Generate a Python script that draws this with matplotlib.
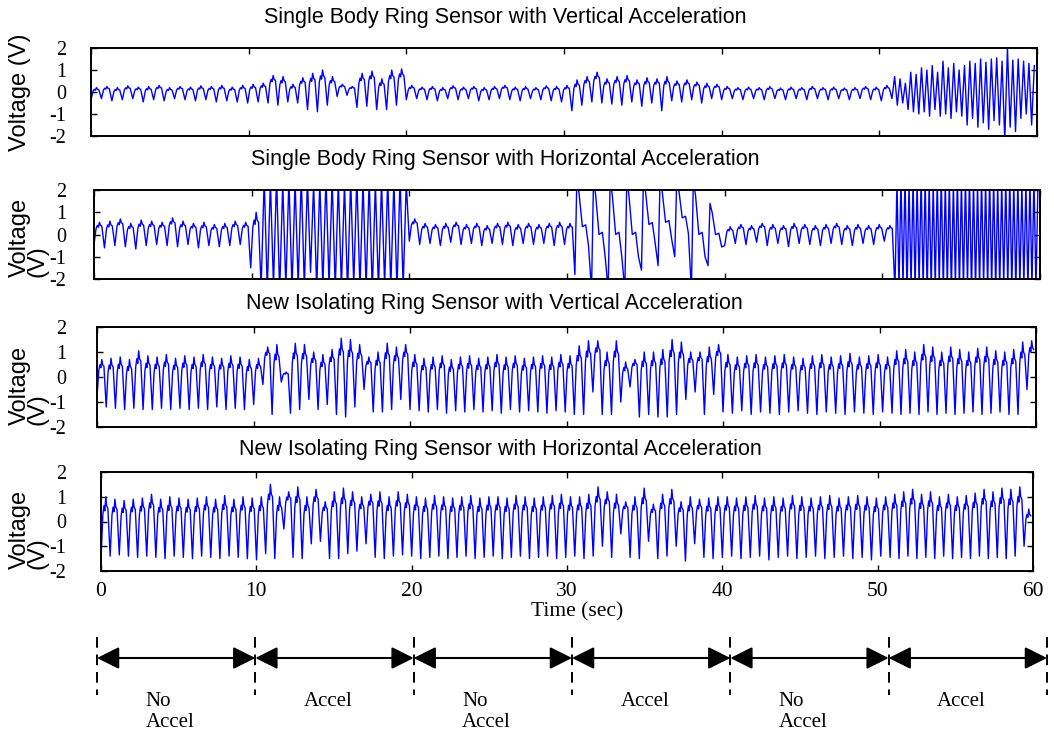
import matplotlib
matplotlib.use("Agg")
import matplotlib.pyplot as plt
import numpy as np

# ---- data ----
titles = ["Single Body Ring Sensor with Vertical Acceleration",
          "Single Body Ring Sensor with Horizontal Acceleration",
          "New Isolating Ring Sensor with Vertical Acceleration",
          "New Isolating Ring Sensor with Horizontal Acceleration"]

# time (sec) where the no-accel / accel phases switch in the traces
phase_edges = [0, 10.6, 20.0, 30.5, 40.0, 50.8, 60]
# protocol bar below the plots
protocol_edges = [0, 10, 20, 30, 40, 50, 60]
protocol_names = ["No\nAccel", "Accel", "No\nAccel", "Accel", "No\nAccel", "Accel"]

x_ticks = [0, 10, 20, 30, 40, 50, 60]
y_ticks = [-2, -1, 0, 1, 2]

# one typical cycle of each waveform kind (phase within cycle, level 0=trough 1=peak)
beat_phase = [0.0, 0.2, 0.32, 0.42, 0.52, 0.62, 0.75]
beat_level = [0.0, 0.72, 0.86, 0.78, 1.0, 0.86, 0.82]
zig_phase = [0.0, 0.5]
zig_level = [0.0, 1.0]
swing_phase = [0.0, 0.12, 0.25, 0.45, 0.65, 0.82]
swing_level = [0.0, 1.0, 0.85, 0.5, 0.52, 0.3]

# per phase: cycle peaks / troughs (V)
p1_kind = ["beat", "beat", "beat", "beat", "beat", "zig"]
p1_peaks = [
    [0.2, 0.25, 0.2, 0.28, 0.22, 0.25, 0.3, 0.2, 0.25, 0.22, 0.28, 0.25, 0.3, 0.22, 0.3, 0.35],
    [0.4, 0.75, 0.7, 0.35, 0.65, 0.85, 1.0, 0.7, 0.35, 0.25, 0.85, 0.95, 0.6, 1.0, 1.05],
    [0.3, 0.22, 0.25, 0.2, 0.28, 0.22, 0.25, 0.2, 0.25, 0.3, 0.22, 0.25, 0.2, 0.28, 0.25, 0.3],
    [0.55, 0.7, 0.9, 0.6, 0.7, 0.75, 0.55, 0.65, 0.6, 0.7, 0.5, 0.55, 0.45, 0.4, 0.35],
    [0.25, 0.2, 0.22, 0.2, 0.25, 0.18, 0.22, 0.2, 0.25, 0.2, 0.22, 0.18, 0.2, 0.25, 0.22, 0.3],
    [0.7, 0.6, 0.4, 0.9, 0.8, 1.1, 1.0, 1.2, 0.9, 1.4, 1.1, 1.3, 1.0, 1.2, 1.4, 1.3, 1.5, 1.35,
     1.5, 1.55, 1.4, 2.0, 1.45, 1.5, 1.4, 1.3, 1.2]]
p1_troughs = [
    [-0.35, -0.3, -0.4, -0.35, -0.3, -0.45, -0.35, -0.4, -0.3, -0.35, -0.4, -0.35, -0.45, -0.4, -0.45, -0.5],
    [-0.45, -0.5, -0.6, -0.45, -0.5, -0.8, -0.9, -0.6, -0.2, -0.15, -0.7, -0.65, -0.8, -0.8, -0.6],
    [-0.35, -0.3, -0.35, -0.4, -0.3, -0.35, -0.3, -0.4, -0.35, -0.3, -0.35, -0.4, -0.3, -0.35, -0.4, -0.45],
    [-0.85, -0.6, -0.45, -0.5, -0.55, -0.6, -0.45, -0.65, -0.5, -0.85, -0.4, -0.45, -0.35, -0.5, -0.3],
    [-0.35, -0.3, -0.35, -0.3, -0.35, -0.3, -0.35, -0.3, -0.35, -0.3, -0.35, -0.3, -0.35, -0.3, -0.35, -0.4],
    [-0.3, -0.6, -0.5, -0.8, -0.9, -1.0, -0.9, -1.1, -0.8, -1.1, -1.0, -1.2, -0.9, -1.1, -1.5, -1.2, -1.6,
     -1.4, -1.7, -1.3, -1.5, -2.2, -1.6, -1.8, -1.2, -1.0, -1.5]]

p2_kind = ["beat", "zig", "beat", "swing", "beat", "zig"]
p2_peaks = [
    [0.55, 0.6, 0.7, 0.5, 0.65, 0.6, 0.55, 0.75, 0.6, 0.5, 0.55, 0.45, 0.5, 0.6, 0.55, 1.0],
    [2.5, 2.4, 2.6, 2.3, 2.5, 2.4, 2.6, 2.5, 2.3, 2.4, 2.6, 2.5, 2.4, 2.3, 2.5, 2.6, 2.4, 2.5,
     2.3, 2.4, 2.5, 2.4, 2.6, 2.3],
    [0.7, 0.5, 0.45, 0.5, 0.55, 0.45, 0.5, 0.4, 0.5, 0.55, 0.45, 0.5, 0.45, 0.5, 0.55, 0.5],
    [2.5, 2.5, 2.5, 2.5, 2.5, 2.5, 2.5, 2.5, 1.4],
    [0.35, 0.45, 0.4, 0.5, 0.45, 0.4, 0.5, 0.45, 0.4, 0.45, 0.5, 0.4, 0.45, 0.4, 0.45, 0.4],
    [2.4, 2.5, 2.6, 2.3, 2.5, 2.4, 2.6, 2.5, 2.4, 2.3, 2.5, 2.6, 2.4, 2.5, 2.3, 2.6, 2.4, 2.5,
     2.6, 2.4, 2.3, 2.5, 2.4, 2.6, 2.5, 2.3, 2.4, 2.5, 2.6, 2.4, 2.5, 2.3, 2.4, 2.5, 2.6, 2.4]]
p2_troughs = [
    [-0.45, -0.6, -0.5, -0.55, -0.65, -0.5, -0.45, -0.5, -0.55, -0.45, -0.6, -0.5, -0.55, -0.5, -0.45, -1.5],
    [-2.4, -2.5, -2.3, -2.6, -2.4, -2.5, -2.3, -2.4, -1.7, -2.5, -2.4, -2.3, -2.5, -2.4, -2.6, -2.3, -2.5,
     -2.4, -2.6, -2.5, -2.3, -2.4, -2.5, -2.4],
    [-0.3, -0.45, -0.4, -0.5, -0.35, -0.45, -0.4, -0.5, -0.4, -0.45, -0.5, -0.4, -0.45, -0.4, -0.5, -0.45],
    [-1.8, -2.5, -2.5, -2.5, -1.6, -1.4, -1.0, -2.5, -1.4],
    [-0.5, -0.4, -0.45, -0.35, -0.5, -0.4, -0.55, -0.4, -0.45, -0.5, -0.4, -0.45, -0.5, -0.4, -0.45, -0.3],
    [-2.5, -2.4, -2.3, -2.6, -2.4, -2.5, -2.3, -2.4, -2.6, -2.5, -2.4, -2.3, -2.5, -2.4, -2.6, -2.3, -2.5,
     -2.4, -2.3, -2.6, -2.5, -2.4, -2.3, -2.5, -2.4, -2.6, -2.5, -2.3, -2.4, -2.5, -2.6, -2.4, -2.3, -2.5,
     -2.4, -2.5]]

p3_kind = ["beat"] * 6
p3_peaks = [
    [0.7, 0.75, 0.8, 0.7, 1.05, 0.85, 0.8, 0.9, 0.75, 0.85, 0.8, 0.9, 0.8, 0.75, 0.85, 0.8, 0.7, 0.75],
    [1.2, 1.3, 0.2, 1.35, 1.3, 1.0, 0.9, 1.1, 1.55, 1.5, 1.3, 0.8, 1.0, 1.35, 1.2, 1.3],
    [0.9, 0.75, 0.8, 0.85, 0.7, 0.8, 0.85, 0.75, 0.8, 0.9, 0.8, 0.85, 0.75, 0.8, 0.85, 0.8, 0.9, 0.85],
    [1.25, 1.45, 1.45, 1.0, 1.45, 0.6, 0.7, 1.0, 1.0, 1.1, 1.5, 1.4, 1.0, 1.0, 1.2, 1.3],
    [0.9, 0.8, 0.85, 0.9, 0.8, 0.85, 0.9, 0.8, 0.75, 0.85, 0.9, 0.8, 0.85, 0.95, 0.8, 0.85, 0.9, 0.8],
    [1.05, 1.1, 1.0, 1.3, 1.2, 1.0, 1.2, 1.1, 1.0, 1.15, 1.2, 1.05, 1.0, 1.1, 1.4, 1.45]]
p3_troughs = [
    [-0.8, -1.2, -1.25, -1.3, -1.25, -1.3, -1.3, -1.25, -1.3, -1.25, -1.3, -1.25, -1.3, -1.2, -1.3, -1.25,
     -1.3, -1.1],
    [-0.3, -1.5, -0.2, -1.45, -1.3, -0.9, -1.3, -1.1, -1.5, -1.6, -1.2, -0.5, -1.4, -1.4, -1.3, -0.9],
    [-1.3, -1.35, -1.4, -1.3, -1.45, -1.35, -1.4, -1.3, -1.4, -1.35, -1.45, -1.3, -1.4, -1.35, -1.4, -1.45,
     -1.35, -1.4],
    [-1.5, -1.5, -0.6, -1.5, -1.5, -1.0, -0.4, -1.6, -1.5, -1.6, -1.6, -1.5, -0.9, -0.6, -1.5, -0.7],
    [-1.4, -1.45, -1.35, -1.5, -1.4, -1.45, -1.5, -1.4, -1.35, -1.45, -1.5, -1.4, -1.45, -1.5, -1.4, -1.45,
     -1.5, -1.4],
    [-1.45, -1.5, -1.45, -1.5, -1.4, -1.5, -1.45, -1.5, -1.45, -1.4, -1.5, -1.45, -1.4, -1.5, -1.5, -0.5]]

p4_kind = ["beat"] * 6
p4_peaks = [
    [1.0, 0.9, 0.85, 0.9, 0.95, 1.1, 0.9, 1.0, 0.95, 0.9, 0.95, 1.0, 0.9, 1.05, 0.9, 1.0, 0.95, 1.0],
    [1.5, 1.0, 1.2, 1.4, 1.0, 1.3, 0.8, 1.2, 1.35, 1.2, 1.0, 1.1, 1.2, 1.0, 1.2, 1.1],
    [1.0, 0.95, 1.05, 1.0, 0.95, 1.0, 1.05, 0.95, 1.0, 1.0, 0.95, 1.05, 1.0, 0.95, 1.0, 1.05, 1.1, 1.0],
    [1.0, 1.1, 1.4, 1.2, 1.1, 0.8, 1.0, 1.35, 0.7, 1.1, 1.3, 0.8, 1.0, 0.9, 0.95, 1.0],
    [1.0, 0.95, 1.0, 1.05, 0.95, 1.0, 0.95, 1.05, 1.0, 0.95, 1.0, 1.05, 0.95, 1.0, 1.05, 1.0, 0.95, 1.0],
    [1.1, 1.2, 1.3, 1.1, 1.2, 1.0, 1.1, 1.0, 1.05, 1.15, 1.3, 1.2, 1.35, 1.3, 1.4, 0.5]]
p4_troughs = [
    [-1.6, -1.4, -1.35, -1.4, -1.45, -1.4, -1.45, -1.5, -1.4, -1.45, -1.5, -1.4, -1.45, -1.5, -1.4, -1.45,
     -1.5, -1.55],
    [-1.3, -1.5, -0.3, -1.45, -1.5, -0.9, -0.8, -1.5, -1.5, -1.3, -1.2, -0.9, -1.45, -1.5, -1.4, -1.35],
    [-1.4, -1.5, -1.45, -1.4, -1.5, -1.45, -1.4, -1.5, -1.45, -1.4, -1.5, -1.45, -1.4, -1.5, -1.45, -1.4,
     -1.5, -1.45],
    [-1.4, -1.5, -1.4, -1.0, -1.45, -0.5, -1.45, -1.5, -0.8, -1.5, -1.4, -1.0, -1.6, -0.9, -1.45, -1.5],
    [-1.45, -1.4, -1.5, -1.45, -1.4, -1.55, -1.45, -1.4, -1.5, -1.45, -1.4, -1.5, -1.45, -1.4, -1.5, -1.45,
     -1.55, -1.4],
    [-1.45, -1.5, -1.4, -1.5, -1.45, -1.5, -1.4, -1.5, -1.45, -1.5, -1.4, -1.5, -1.45, -1.5, -1.4, -1.0]]

shapes = {"beat": (beat_phase, beat_level),
          "zig": (zig_phase, zig_level),
          "swing": (swing_phase, swing_level)}


def build_trace(peaks, troughs, kinds):
    t, v = [], []
    for seg, (hi_list, lo_list, kind) in enumerate(zip(peaks, troughs, kinds)):
        t0, t1 = phase_edges[seg], phase_edges[seg + 1]
        period = (t1 - t0) / len(hi_list)
        ph, lv = shapes[kind]
        for k, (hi, lo) in enumerate(zip(hi_list, lo_list)):
            for p, l in zip(ph, lv):
                t.append(t0 + (k + p) * period)
                v.append(lo + l * (hi - lo))
    return np.array(t), np.array(v)


W, H = 1054, 734
# panel boxes in pixels: left, top, right, bottom
boxes = [(91, 48, 1037, 136), (94, 190, 1040, 279), (97, 327, 1036, 427), (101, 472, 1033, 571)]
title_pos = [(505, 18), (505, 160), (494, 303), (500, 450)]
label_right = 66

plt.rcParams['font.family'] = ['Liberation Sans', 'DejaVu Sans']
fig = plt.figure(figsize=(W / 100, H / 100), dpi=100)
fig.patch.set_facecolor('white')

panels = [(p1_peaks, p1_troughs, p1_kind), (p2_peaks, p2_troughs, p2_kind),
          (p3_peaks, p3_troughs, p3_kind), (p4_peaks, p4_troughs, p4_kind)]

axes = []
for i, ((l, t, r, b), (pk, tr, kd)) in enumerate(zip(boxes, panels)):
    ax = fig.add_axes([l / W, 1 - b / H, (r - l) / W, (b - t) / H])
    tt, vv = build_trace(pk, tr, kd)
    ax.plot(tt, vv, color='#0000ff', lw=1.0)
    ax.set_xlim(0, 60)
    ax.set_ylim(-2, 2)
    ax.set_xticks(x_ticks)
    ax.set_yticks(y_ticks)
    ax.set_yticklabels([str(y) for y in y_ticks], family='Liberation Serif', fontsize=14.5)
    ax.tick_params(direction='in', length=4, width=1, top=True, right=True,
                   pad=(l - label_right) * 0.72)
    ax.tick_params(axis='x', pad=4)
    for lab in ax.get_yticklabels():
        lab.set_bbox(dict(facecolor='white', edgecolor='none', pad=0.5))
    if i < 3:
        ax.set_xticklabels([])
    else:
        ax.set_xticklabels([str(x) for x in x_ticks], family='Liberation Serif', fontsize=15.5)
        ax.tick_params(axis='x', pad=8)
    for sp in ax.spines.values():
        sp.set_linewidth(1.4)
    fig.text(title_pos[i][0] / W, 1 - title_pos[i][1] / H, titles[i], ha='center', va='center', fontsize=15.5)
    if i == 0:
        fig.text(20 / W, 1 - (t + b) / 2 / H, "Voltage (V)", rotation=90, ha='center', va='center', fontsize=17)
    else:
        fig.text(20 / W, 1 - (b - 2) / H, "Voltage", rotation=90, ha='center', va='bottom', fontsize=17)
        fig.text(38 / W, 1 - (b - 2) / H, "(V)", rotation=90, ha='center', va='bottom', fontsize=17, zorder=-1)
    axes.append(ax)

fig.text(577 / W, 1 - 612 / H, "Time (sec)", ha='center', va='center', family='Liberation Serif', fontsize=15.5)

# protocol bar
pax = fig.add_axes([97 / W, 0, (1047 - 97) / W, 104 / H])
pax.set_xlim(0, 60)
pax.set_ylim(104, 0)
pax.axis('off')
for x in protocol_edges:
    pax.plot([x, x], [7, 65], color='black', lw=1.4, ls=(0, (5.5, 3.5)), clip_on=False)
for x0, x1, name in zip(protocol_edges[:-1], protocol_edges[1:], protocol_names):
    pax.annotate('', xy=(x1, 28), xytext=(x0, 28),
                 arrowprops=dict(arrowstyle='<|-|>', color='black', lw=1.5,
                                 mutation_scale=34, shrinkA=0, shrinkB=0))
    pax.text((x0 + x1) / 2 - 0.4, 62, name, ha='center', va='top', multialignment='left',
             family='Liberation Serif', fontsize=15, linespacing=1.15)

fig.savefig("out.png", dpi=100)
